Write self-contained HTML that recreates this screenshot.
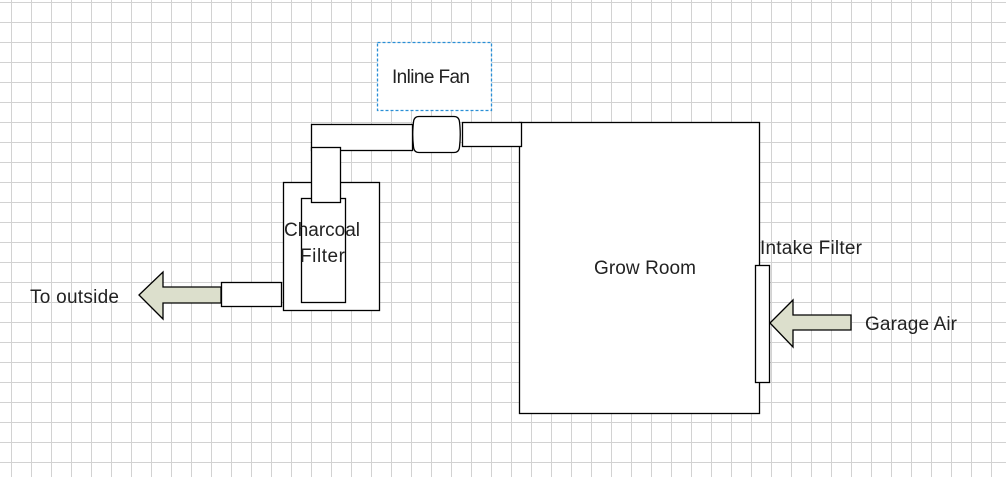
<!DOCTYPE html>
<html><head><meta charset="utf-8"><style>
html,body{margin:0;padding:0;background:#fff;}
svg{display:block;}
text{font-family:"Liberation Sans",sans-serif;font-size:19px;fill:#222;}
</style></head><body>
<svg width="1006" height="477" xmlns="http://www.w3.org/2000/svg">
<defs>
<pattern id="g" x="11" y="2" width="20" height="20" patternUnits="userSpaceOnUse">
<path d="M0.5 0V20M0 0.5H20" stroke="#d2d2d2" stroke-width="1" fill="none"/>
</pattern>
</defs>
<rect width="1006" height="477" fill="url(#g)"/>
<g stroke="#000" stroke-width="1.3" fill="#fff">
<rect x="519.5" y="122.5" width="240" height="291"/>
<rect x="377.5" y="42.5" width="114" height="68" stroke="#2a8fd6" stroke-dasharray="3,2"/>
<rect x="311.5" y="124.5" width="101" height="26"/>
<rect x="283.5" y="182.5" width="96" height="128"/>
<rect x="301.5" y="198.5" width="44" height="104"/>
<rect x="311.5" y="147.5" width="29" height="55"/>
<path d="M419 116.5H454Q459 116.5 459.5 122Q461 134.5 459.5 147Q459 152.5 454 152.5H419Q414 152.5 413.5 147Q412 134.5 413.5 122Q414 116.5 419 116.5Z"/>
<rect x="462.5" y="122.5" width="59" height="24"/>
<rect x="221.5" y="282.5" width="60" height="24"/>
<rect x="755.5" y="265.5" width="14" height="117"/>
<path d="M139 295L163 272V287H221V303H163V319Z" fill="#dcdfcc"/>
<path d="M770 323L793 300V315H851V330H793V347Z" fill="#dcdfcc"/>
</g>
<text x="392" y="83" textLength="78">Inline Fan</text>
<text x="284" y="236" textLength="76">Charcoal</text>
<text x="300" y="262" textLength="45">Filter</text>
<text x="594" y="274" textLength="102">Grow Room</text>
<text x="760" y="254" textLength="102">Intake Filter</text>
<text x="865" y="330" textLength="92">Garage Air</text>
<text x="30" y="303" textLength="89">To outside</text>
</svg>
</body></html>
